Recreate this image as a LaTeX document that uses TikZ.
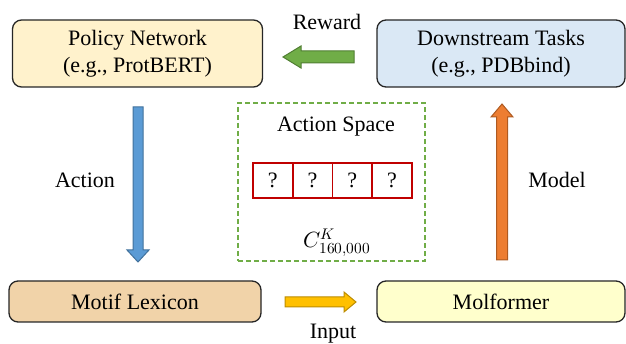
\documentclass[tikz,border=0pt]{standalone}
\usepackage{unicode-math}
\setmathfont{Latin Modern Math}
\setmainfont{Liberation Serif}
\definecolor{pfill}{HTML}{FFF2CC}
\definecolor{dfill}{HTML}{DAE8F5}
\definecolor{mfill}{HTML}{F1D3A9}
\definecolor{molfill}{HTML}{FFFFCC}
\definecolor{bordc}{HTML}{262626}
\definecolor{garrow}{HTML}{70AD47}
\definecolor{garrowd}{HTML}{507E32}
\definecolor{barrow}{HTML}{5B9BD5}
\definecolor{barrowd}{HTML}{41719C}
\definecolor{oarrow}{HTML}{ED7D31}
\definecolor{oarrowd}{HTML}{AE5A21}
\definecolor{yarrow}{HTML}{FFC000}
\definecolor{yarrowd}{HTML}{BC8C00}
\definecolor{redc}{HTML}{C00000}
\tikzset{
  box/.style={draw=bordc, line width=1.3pt, rounded corners=9pt, align=center, inner sep=0pt},
  lbl/.style={inner sep=0pt, align=center},
  cell/.style={draw=redc, line width=1.8pt, minimum width=39.75pt, minimum height=35pt, inner sep=0pt},
  blockarrow/.style={line width=1pt, line join=miter},
}
\begin{document}
\begin{tikzpicture}[x=1pt,y=-1pt, font=\rmfamily\fontsize{22}{27}\selectfont]
\useasboundingbox (0,0) rectangle (626,344);
% boxes
\node[box, fill=pfill, minimum width=250pt, minimum height=67pt] (policy) at (137.5,53.5) {Policy Network\\(e.g., ProtBERT)};
\node[box, fill=dfill, minimum width=248pt, minimum height=67pt] (down) at (501,53.5) {Downstream Tasks\\(e.g., PDBbind)};
\node[box, fill=mfill, minimum width=252pt, minimum height=41pt] (motif) at (135,301.5) {Motif Lexicon};
\node[box, fill=molfill, minimum width=248pt, minimum height=41pt] (mol) at (501,301.5) {Molformer};
% action space
\node[draw=garrow, dashed, line width=1.4pt, dash pattern=on 5pt off 3pt, minimum width=187pt, minimum height=158pt, inner sep=0pt] (space) at (331.5,182) {};
\node[lbl] (astitle) at (336,127) {Action Space};
\node[cell] (c1) at (272.875,180.5) {?};
\node[cell] (c2) at (312.625,180.5) {?};
\node[cell] (c3) at (352.375,180.5) {?};
\node[cell] (c4) at (392.125,180.5) {?};
\node[lbl] (formula) at (337,243) {$C^{K}_{160,000}$};
% labels
\node[lbl] (reward) at (327,22) {Reward};
\node[lbl] (action) at (85,180) {Action};
\node[lbl] (model) at (557,180) {Model};
\node[lbl] (input) at (333,334) {Input};
% block arrows
% green (Reward), pointing left
\draw[blockarrow, fill=garrow, draw=garrowd]
  (354,51) -- (301,51) -- (301,46) -- (283,57) -- (301,68) -- (301,63) -- (354,63) -- cycle;
% blue (Action), pointing down
\draw[blockarrow, fill=barrow, draw=barrowd]
  (133,107) -- (143,107) -- (143,250) -- (149,250) -- (138,262) -- (127,250) -- (133,250) -- cycle;
% orange (Model), pointing up
\draw[blockarrow, fill=oarrow, draw=oarrowd]
  (496.5,260) -- (507.5,260) -- (507.5,117) -- (513,117) -- (502,104) -- (491,117) -- (496.5,117) -- cycle;
% yellow (Input), pointing right
\draw[blockarrow, fill=yarrow, draw=yarrowd]
  (285,297) -- (344,297) -- (344,292) -- (356,302) -- (344,312) -- (344,307) -- (285,307) -- cycle;
\end{tikzpicture}
\end{document}
